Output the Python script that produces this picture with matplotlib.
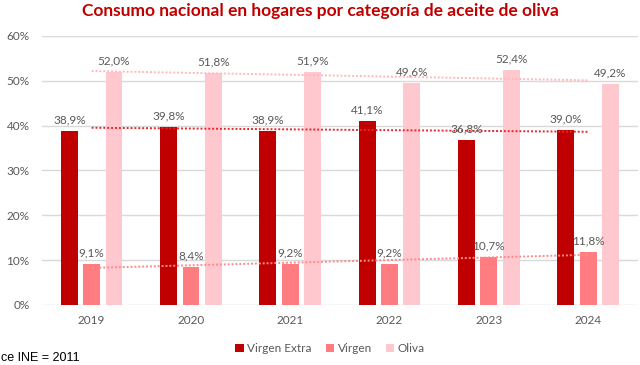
import numpy as np
import matplotlib
matplotlib.use("Agg")
import matplotlib.pyplot as plt

plt.rcParams['font.family'] = ['Lato', 'DejaVu Sans']

years = ['2019', '2020', '2021', '2022', '2023', '2024']
virgen_extra = [38.9, 39.8, 38.9, 41.1, 36.8, 39.0]
virgen = [9.1, 8.4, 9.2, 9.2, 10.7, 11.8]
oliva = [52.0, 51.8, 51.9, 49.6, 52.4, 49.2]

series = [('Virgen Extra', virgen_extra, '#C00000'),
          ('Virgen', virgen, '#FF7C80'),
          ('Oliva', oliva, '#FFC7CE')]
trend_colors = ['#E8262B', '#FF8A8A', '#FFB8BE']

gray = '#595959'
fig = plt.figure(figsize=(6.4, 3.65), dpi=100)
ax = fig.add_axes([0.0656, 0.1644, 0.931, 0.737])

x = np.arange(len(years))
w = 0.17
step = 0.225
for i, (name, vals, col) in enumerate(series):
    pos = x + (i - 1) * step
    bars = ax.bar(pos, vals, width=w, color=col, label=name, zorder=3)
    for b, v in zip(bars, vals):
        ax.annotate(f"{v:.1f}%".replace('.', ','),
                    (b.get_x() + b.get_width() / 2, v),
                    xytext=(0, 4), textcoords='offset points',
                    ha='center', va='bottom', fontsize=8.5, color=gray, zorder=5)
    # linear trend line
    k, c = np.polyfit(x, vals, 1)
    ax.plot(x, k * x + c, linestyle=(0, (1, 1)), color=trend_colors[i],
            linewidth=1.4, zorder=4)

ax.set_ylim(0, 60)
ax.set_xlim(-0.5, 5.5)
ax.set_yticks(range(0, 61, 10))
ax.set_yticklabels([f"{t}%" for t in range(0, 61, 10)])
ax.set_xticks(x)
ax.set_xticklabels(years)
ax.tick_params(axis='both', length=0, colors=gray, labelsize=8.5)
ax.tick_params(axis='x', pad=7)
ax.tick_params(axis='y', pad=9)
ax.grid(axis='y', color='#D9D9D9', linewidth=1, zorder=0)
for s in ax.spines.values():
    s.set_visible(False)

fig.text(0.5, 0.97, 'Consumo nacional en hogares por categoría de aceite de oliva',
         ha='center', va='center', fontsize=12.5, fontweight='bold', color='#C00000')

leg = fig.legend(loc='center', bbox_to_anchor=(0.516, 0.045), ncol=3, frameon=False,
                 fontsize=8.5, handlelength=0.7, handleheight=0.7, handletextpad=0.3,
                 columnspacing=1.2)
for t in leg.get_texts():
    t.set_color(gray)

fig.text(0.002, 0.004, 'ce INE = 2011', ha='left', va='bottom', fontsize=9,
         color='black', family='Liberation Sans')

fig.savefig('out.png', dpi=100)
